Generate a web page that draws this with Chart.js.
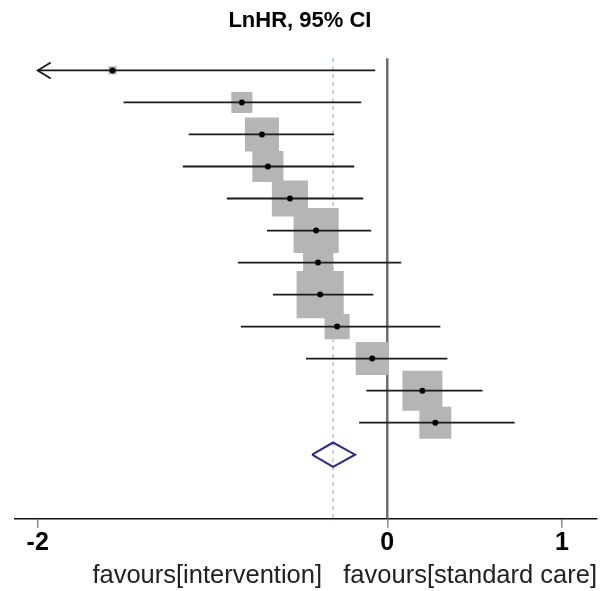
<!DOCTYPE html>
<html>
<head>
<meta charset="utf-8">
<script src="https://cdn.jsdelivr.net/npm/chart.js@4"></script>
<style>
  body { margin: 0; background: #fff; }
  #wrap { width: 608px; height: 591px; }
</style>
</head>
<body>
<div id="wrap"><canvas id="forest"></canvas></div>
<script>
// per-study log hazard ratios with 95% CI, top row first
const estimates = [-1.572, -0.832, -0.717, -0.683, -0.557, -0.407, -0.396, -0.384, -0.287, -0.086, 0.201, 0.275];
const ciLow = [-2.0, -1.509, -1.136, -1.170, -0.918, -0.688, -0.855, -0.654, -0.838, -0.465, -0.120, -0.161];
const ciHigh = [-0.069, -0.149, -0.304, -0.189, -0.138, -0.092, 0.080, -0.080, 0.304, 0.344, 0.545, 0.729];
const weights = [0.5, 3.3, 8.6, 7.2, 9.7, 15.1, 6.7, 16.5, 4.7, 8.1, 11.9, 7.6];
const truncatedLow = [0]; // rows whose lower limit runs off the axis
const pooled = { est: -0.310, low: -0.430, high: -0.184 };
const xTicks = [-2, 0, 1];

const FONT = "'Liberation Sans', Arial, Helvetica, sans-serif";
const rows = estimates.map((_, i) => i + 1);
const pooledRow = estimates.length + 1;
const yTop = 0.62, yBottom = 15;

const ciSets = rows.map((r, i) => ({
    data: [{ x: ciLow[i], y: r }, { x: ciHigh[i], y: r }],
    showLine: true,
    borderColor: '#1a1a1a',
    borderWidth: 1.8,
    pointRadius: 0,
    order: 3
}));

// little arrow head for CIs cut off at the axis edge
const arrowPlugin = {
    id: 'ciArrow',
    afterDatasetsDraw(chart) {
        const { ctx, scales: { x, y } } = chart;
        ctx.save();
        ctx.strokeStyle = '#1a1a1a';
        ctx.lineWidth = 1.8;
        truncatedLow.forEach(i => {
            const px = x.getPixelForValue(ciLow[i]);
            const py = y.getPixelForValue(rows[i]);
            ctx.beginPath();
            ctx.moveTo(px + 13, py - 8);
            ctx.lineTo(px, py);
            ctx.lineTo(px + 13, py + 8);
            ctx.stroke();
        });
        ctx.restore();
    }
};

const chart = new Chart(document.getElementById('forest'), {
    type: 'scatter',
    data: {
        datasets: [
            {
                // study estimates
                data: rows.map((r, i) => ({ x: estimates[i], y: r })),
                pointStyle: 'circle',
                pointRadius: 3,
                backgroundColor: '#000',
                borderWidth: 0,
                order: 1
            },
            {
                // pooled diamond
                data: [
                    { x: pooled.low, y: pooledRow },
                    { x: pooled.est, y: pooledRow - 0.38 },
                    { x: pooled.high, y: pooledRow },
                    { x: pooled.est, y: pooledRow + 0.38 },
                    { x: pooled.low, y: pooledRow }
                ],
                showLine: true,
                borderColor: '#2b2b86',
                borderWidth: 2,
                pointRadius: 0,
                order: 2
            },
            ...ciSets,
            {
                // weight boxes
                data: rows.map((r, i) => ({ x: estimates[i], y: r })),
                pointStyle: 'rect',
                pointRadius: weights.map(w => 8.2 * Math.sqrt(w)),
                backgroundColor: '#b5b5b5',
                borderWidth: 0,
                order: 4
            },
            {
                // line of no effect
                data: [{ x: 0, y: yTop }, { x: 0, y: yBottom }],
                showLine: true,
                borderColor: '#6e6e6e',
                borderWidth: 2.5,
                pointRadius: 0,
                order: 5
            },
            {
                // pooled estimate reference
                data: [{ x: pooled.est, y: yTop }, { x: pooled.est, y: yBottom }],
                showLine: true,
                borderColor: '#a3c8e6',
                borderWidth: 1.5,
                borderDash: [4, 4],
                pointRadius: 0,
                order: 6
            }
        ]
    },
    options: {
        responsive: true,
        maintainAspectRatio: false,
        animation: false,
        layout: { autoPadding: false, padding: { left: 15, right: 11, top: 0, bottom: 0 } },
        plugins: {
            legend: { display: false },
            tooltip: { enabled: false },
            title: {
                display: true,
                text: 'LnHR, 95% CI  ',
                color: '#000',
                font: { family: FONT, size: 22, weight: 'bold' },
                padding: { top: 8, bottom: 4 }
            }
        },
        scales: {
            x: {
                type: 'linear',
                min: -2.13,
                max: 1.2,
                afterBuildTicks: scale => { scale.ticks = xTicks.map(v => ({ value: v })); },
                border: { display: true, color: '#111', width: 1.5 },
                grid: { drawOnChartArea: false, drawTicks: true, tickLength: 9, color: '#8a8a8a', lineWidth: 1.5 },
                ticks: {
                    color: '#000',
                    padding: 2,
                    font: { family: FONT, size: 25, weight: 'bold', lineHeight: 1.1 },
                    callback: v => String(v)
                },
                title: {
                    display: true,
                    align: 'end',
                    text: 'favours[intervention]   favours[standard care]',
                    color: '#222',
                    font: { family: FONT, size: 25.5, lineHeight: 1.05 },
                    padding: { top: 3, bottom: 2 }
                }
            },
            y: {
                type: 'linear',
                display: false,
                reverse: true,
                min: 0,
                max: yBottom
            }
        }
    },
    plugins: [arrowPlugin]
});
</script>
</body>
</html>
